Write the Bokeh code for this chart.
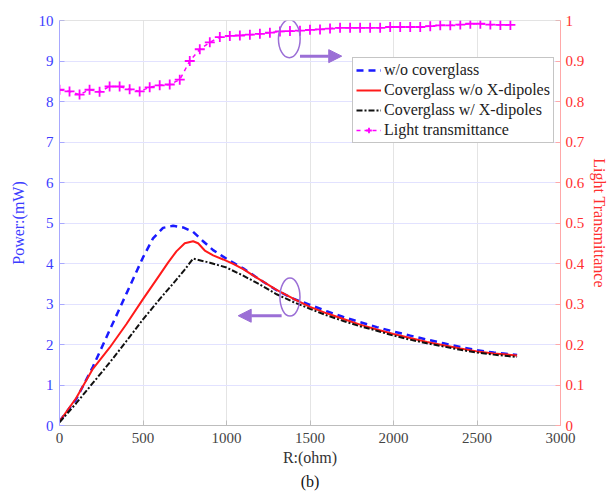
from bokeh.plotting import figure
from bokeh.models import (Range1d, LinearAxis, FixedTicker, Legend, LegendItem, Span,
                          Arrow, NormalHead, Title)
from bokeh.embed import file_html
from bokeh.resources import INLINE

# ---------------- data ----------------
r_blue = [0, 100, 200, 300, 400, 500, 560, 620, 680, 740, 800, 860, 920, 980, 1040, 1100,
          1200, 1300, 1400, 1500, 1600, 1700, 1800, 1900, 2000, 2100, 2200, 2300, 2400,
          2500, 2600, 2740]
p_blue = [0.1, 0.65, 1.45, 2.35, 3.25, 4.15, 4.62, 4.88, 4.93, 4.89, 4.78, 4.55, 4.33, 4.17,
          4.02, 3.88, 3.60, 3.34, 3.13, 2.98, 2.82, 2.68, 2.55, 2.43, 2.32, 2.22, 2.12, 2.03,
          1.94, 1.86, 1.80, 1.74]

r_red = [0, 100, 200, 300, 400, 500, 600, 650, 700, 750, 800, 830, 870, 920, 980, 1040, 1100,
         1200, 1300, 1400, 1500, 1600, 1700, 1800, 1900, 2000, 2100, 2200, 2300, 2400, 2500,
         2600, 2740]
p_red = [0.1, 0.68, 1.40, 1.92, 2.50, 3.12, 3.72, 4.02, 4.30, 4.50, 4.55, 4.50, 4.32, 4.20,
         4.10, 3.99, 3.86, 3.60, 3.35, 3.13, 2.93, 2.77, 2.63, 2.49, 2.37, 2.26, 2.16, 2.06,
         1.98, 1.90, 1.83, 1.78, 1.73]

r_black = [0, 100, 200, 300, 400, 500, 600, 700, 750, 800, 850, 900, 1000, 1100, 1200, 1300,
           1400, 1500, 1600, 1700, 1800, 1900, 2000, 2100, 2200, 2300, 2400, 2500, 2600, 2740]
p_black = [0.08, 0.55, 1.05, 1.55, 2.08, 2.62, 3.12, 3.60, 3.85, 4.12, 4.07, 4.02, 3.90, 3.70,
           3.48, 3.24, 3.05, 2.88, 2.72, 2.58, 2.45, 2.34, 2.22, 2.12, 2.03, 1.95, 1.87, 1.80,
           1.75, 1.69]

r_trans = [0, 60, 120, 180, 240, 300, 360, 420, 480, 540, 600, 660, 720, 780, 840, 900, 960,
           1020, 1080, 1140, 1200, 1260, 1320, 1380, 1440, 1500, 1560, 1620, 1680, 1740, 1800,
           1860, 1920, 1980, 2040, 2100, 2160, 2220, 2280, 2340, 2400, 2460, 2520, 2580, 2640,
           2700]
transmittance = [0.829, 0.825, 0.817, 0.829, 0.824, 0.837, 0.837, 0.830, 0.825, 0.835, 0.840,
                 0.842, 0.854, 0.900, 0.929, 0.946, 0.959, 0.962, 0.963, 0.965, 0.967, 0.970,
                 0.973, 0.974, 0.975, 0.977, 0.978, 0.980, 0.982, 0.982, 0.982, 0.982, 0.982,
                 0.984, 0.984, 0.984, 0.984, 0.986, 0.988, 0.988, 0.990, 0.992, 0.992, 0.990,
                 0.989, 0.989]

x_ticks = [0, 500, 1000, 1500, 2000, 2500, 3000]
y_ticks = [0, 1, 2, 3, 4, 5, 6, 7, 8, 9, 10]
t_ticks = [0, 0.1, 0.2, 0.3, 0.4, 0.5, 0.6, 0.7, 0.8, 0.9, 1]
t_labels = ["0", "0.1", "0.2", "0.3", "0.4", "0.5", "0.6", "0.7", "0.8", "0.9", "1"]

labels = ["w/o coverglass", "Coverglass w/o X-dipoles", "Coverglass w/ X-dipoles",
          "Light transmittance"]

# ---------------- figure ----------------
SERIF = "'Liberation Serif', 'Times New Roman', serif"
p = figure(width=611, height=504, output_backend="svg", toolbar_location=None,
           x_range=Range1d(0, 3000), y_range=Range1d(0, 10),
           min_border_left=59, min_border_right=50, min_border_top=20, min_border_bottom=79)
p.outline_line_color = None
p.background_fill_color = "white"
p.border_fill_color = "white"
p.extra_y_ranges = {"trans": Range1d(0, 1)}

# grids
p.xgrid.ticker = FixedTicker(ticks=x_ticks)
p.ygrid.ticker = FixedTicker(ticks=y_ticks)
p.xgrid.grid_line_color = "#e4e4e4"
p.ygrid.grid_line_color = "#e2e2ff"

# bottom axis
xa = p.xaxis[0]
xa.ticker = FixedTicker(ticks=x_ticks)
xa.axis_label = "R:(ohm)"
xa.axis_line_color = "#bdbdbd"
xa.major_tick_line_color = "#bdbdbd"
xa.major_tick_in = 5
xa.major_tick_out = 0
xa.minor_tick_line_color = None
xa.major_label_standoff = 7
xa.axis_label_standoff = 3
xa.major_label_text_font = SERIF
xa.major_label_text_font_size = "15px"
xa.major_label_text_color = "#444444"
xa.axis_label_text_font = SERIF
xa.axis_label_text_font_size = "16px"
xa.axis_label_text_font_style = "normal"
xa.axis_label_text_color = "#333333"

# left axis
ya = p.yaxis[0]
ya.ticker = FixedTicker(ticks=y_ticks)
ya.axis_label = "Power:(mW)"
ya.axis_line_color = "#a8a8ff"
ya.major_tick_line_color = "#a8a8ff"
ya.major_tick_in = 5
ya.major_tick_out = 0
ya.minor_tick_line_color = None
ya.major_label_standoff = 6
ya.axis_label_standoff = 9
ya.major_label_text_font = SERIF
ya.major_label_text_font_size = "15px"
ya.major_label_text_color = "#3c3cff"
ya.axis_label_text_font = SERIF
ya.axis_label_text_font_size = "16px"
ya.axis_label_text_font_style = "normal"
ya.axis_label_text_color = "#3c3cff"

# right axis
ra = LinearAxis(y_range_name="trans", ticker=FixedTicker(ticks=t_ticks),
                axis_label="Light Transmittance")
ra.major_label_overrides = dict(zip(t_ticks, t_labels))
ra.axis_line_color = "#ffa8a8"
ra.major_tick_line_color = "#ffa8a8"
ra.major_tick_in = 5
ra.major_tick_out = 0
ra.minor_tick_line_color = None
ra.major_label_standoff = 5
ra.axis_label_standoff = 4
ra.major_label_text_font = SERIF
ra.major_label_text_font_size = "15px"
ra.major_label_text_color = "#ff3030"
ra.axis_label_text_font = SERIF
ra.axis_label_text_font_size = "16px"
ra.axis_label_text_font_style = "normal"
ra.axis_label_text_color = "#ff3030"
p.add_layout(ra, "right")

# top border
p.add_layout(Span(location=10, dimension="width", line_color="#c8c8c8", line_width=1))

# curves
r1 = p.line(r_blue, p_blue, line_color="#1a1aff", line_width=2.5, line_dash="7 5")
r2 = p.line(r_red, p_red, line_color="#ff1a1a", line_width=2)
r3 = p.line(r_black, p_black, line_color="#111111", line_width=2, line_dash="6 2 2 2")
r4l = p.line(r_trans, transmittance, y_range_name="trans", line_color="#ff00ff",
             line_width=1.5, line_dash="4 4")
r4m = p.scatter(r_trans, transmittance, y_range_name="trans", marker="cross", size=10,
                line_color="#ff00ff", line_width=1.8)

# annotations (ellipses and arrows)
PURPLE = "#9b6fd6"
p.ellipse(x=[1376, 1380], y=[9.55, 3.17], width=[130, 120], height=[0.94, 0.94],
          fill_color=None, line_color=PURPLE, line_width=1.5)
p.add_layout(Arrow(x_start=1440, y_start=9.12, x_end=1690, y_end=9.12,
                   line_color=PURPLE, line_width=3,
                   end=NormalHead(size=13, fill_color=PURPLE, line_color=PURPLE)))
p.add_layout(Arrow(x_start=1330, y_start=2.71, x_end=1070, y_end=2.71,
                   line_color=PURPLE, line_width=3,
                   end=NormalHead(size=13, fill_color=PURPLE, line_color=PURPLE)))

# legend
legend = Legend(items=[LegendItem(label=labels[0], renderers=[r1]),
                       LegendItem(label=labels[1], renderers=[r2]),
                       LegendItem(label=labels[2], renderers=[r3]),
                       LegendItem(label=labels[3], renderers=[r4l, r4m])],
                location=(293, 282))
legend.margin = 0
legend.padding = 3
legend.spacing = 2
legend.label_height = 14
legend.glyph_height = 14
legend.glyph_width = 25
legend.label_standoff = 3
legend.label_text_font = SERIF
legend.label_text_font_size = "16px"
legend.label_text_color = "#222222"
legend.border_line_color = "#8c8c8c"
legend.border_line_width = 1
legend.background_fill_color = "white"
legend.background_fill_alpha = 1
p.add_layout(legend, "center")

# caption
p.add_layout(Title(text="(b)", align="center", text_font=SERIF, text_font_size="16px",
                   text_font_style="normal", text_color="#111111", standoff=4), "below")

open("out.html", "w").write(file_html(p, INLINE))
